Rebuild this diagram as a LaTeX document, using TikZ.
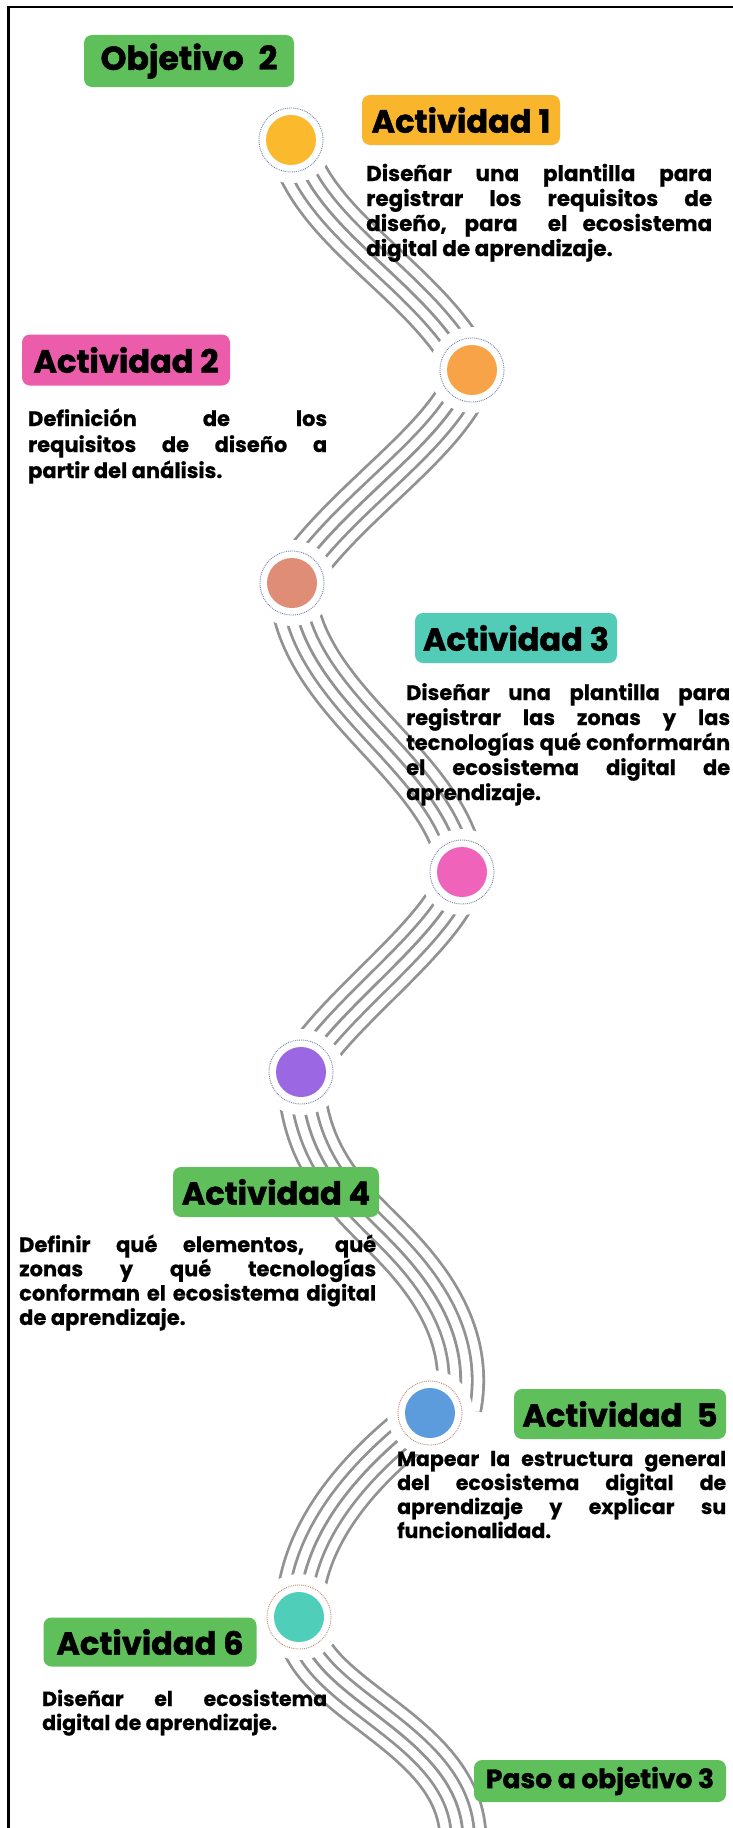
\documentclass[tikz,border=0pt]{standalone}
\usepackage{fontspec}
\newfontfamily\poph{Poppins}[BoldFeatures={FakeBold=1.4}]
\newfontfamily\pop{Poppins}[BoldFeatures={FakeBold=0.6}]
\pgfdeclarelayer{road}
\pgfsetlayers{road,main}
\definecolor{roadc}{HTML}{929292}
\definecolor{ringc}{HTML}{7282AC}
\definecolor{ringr}{HTML}{C08878}
\definecolor{gbox}{HTML}{5EBF5B}
\definecolor{ybox}{HTML}{F9B62D}
\definecolor{pbox}{HTML}{EB5CAB}
\definecolor{tbox}{HTML}{52CCB7}
\definecolor{cA}{HTML}{FBB92E}
\definecolor{cB}{HTML}{F9A348}
\definecolor{cC}{HTML}{E08D78}
\definecolor{cD}{HTML}{F063BA}
\definecolor{cE}{HTML}{9B67E3}
\definecolor{cF}{HTML}{5C9CDC}
\definecolor{cG}{HTML}{4FCFBA}
\hyphenpenalty=10000
\exhyphenpenalty=10000
\tolerance=9999
\begin{document}
\begin{tikzpicture}[x=1pt,y=-1pt,
  hdr/.style={rounded corners=8pt, inner sep=0pt, text=black,
    font=\poph\bfseries\fontsize{32}{34}\selectfont},
  body/.style={anchor=base west, inner sep=0pt, align=justify, text=black},
  dotc/.style={circle, minimum size=50pt, inner sep=0pt},
  ring/.style={densely dotted, line width=0.9pt, draw=ringc}
]
\useasboundingbox (0,0) rectangle (732,1828);

% circles
\node[dotc, fill=cA] (n1) at (291,140) {};
\node[dotc, fill=cB] (n2) at (472,370) {};
\node[dotc, fill=cC] (n3) at (292,583) {};
\node[dotc, fill=cD] (n4) at (462,872) {};
\node[dotc, fill=cE] (n5) at (301,1072) {};
\node[dotc, fill=cF] (n6) at (430,1413) {};
\node[dotc, fill=cG] (n7) at (299,1617) {};
\foreach \i in {1,...,5} \draw[ring] (n\i.center) circle[radius=32pt];
\foreach \i in {6,7} \draw[ring, draw=ringr] (n\i.center) circle[radius=32pt];

\coordinate (m56) at (375,1225);
\coordinate (k6a) at (458,1408);
\coordinate (k6b) at (425,1418);
\coordinate (bot) at (463,1840);

% road
\begin{pgfonlayer}{road}
\foreach \w/\c in {48.8/roadc, 43.2/white, 25.8/roadc, 20.2/white, 2.8/roadc}
  \draw[line width=\w pt, draw=\c, line join=round]
    (n1.center) .. controls +(20,90) and +(-45,-90) .. (n2.center)
    .. controls +(-20,70) and +(50,-80) .. (n3.center)
    .. controls +(5,120) and +(-15,-110) .. (n4.center)
    .. controls +(-12,60) and +(30,-60) .. (n5.center)
    .. controls +(0,80) and +(-28,-28) .. (m56)
    .. controls +(32,32) and +(17,-88) .. (k6a)
    (k6b) .. controls +(-40,32) and +(0,-97) .. (n7.center)
    .. controls +(0,83) and +(0,-110) .. (bot);
\foreach \i in {1,...,7} \fill[white] (n\i.center) circle[radius=43pt];
\end{pgfonlayer}

% headers
\node[hdr, fill=gbox, minimum width=210pt, minimum height=52pt,
  font=\poph\bfseries\fontsize{33}{35}\selectfont] (h0) at (189,61) {Objetivo\hspace{0.45em}2};
\node[hdr, fill=ybox, minimum width=198pt, minimum height=50pt] (h1) at (461,120) {Actividad 1};
\node[hdr, fill=pbox, minimum width=208pt, minimum height=51pt] (h2) at (126,360) {Actividad 2};
\node[hdr, fill=tbox, minimum width=202pt, minimum height=50pt] (h3) at (516,638) {Actividad 3};
\node[hdr, fill=gbox, minimum width=206pt, minimum height=50pt] (h4) at (276,1192) {Actividad 4};
\node[hdr, fill=gbox, minimum width=212pt, minimum height=50pt] (h5) at (620,1414) {Actividad\hspace{0.45em}5};
\node[hdr, fill=gbox, minimum width=213pt, minimum height=49pt] (h6) at (150,1642) {Actividad 6};
\node[hdr, fill=gbox, minimum width=252pt, minimum height=42pt,
  font=\poph\bfseries\fontsize{26.5}{28}\selectfont] (h7) at (600,1781) {Paso a objetivo 3};

% body texts
\node[body, text width=346pt, font=\pop\bfseries\fontsize{21.5}{25}\selectfont] (t1) at (366,181)
  {Diseñar una plantilla para\linebreak registrar los requisitos de\linebreak diseño, para\ \ el ecosistema\linebreak digital de aprendizaje.};
\node[body, text width=299pt, font=\pop\bfseries\fontsize{21}{26}\selectfont] (t2) at (28,426)
  {Definición de los\linebreak requisitos de diseño a\linebreak partir del análisis.};
\node[body, text width=324pt, font=\pop\bfseries\fontsize{21}{25}\selectfont] (t3) at (406,700)
  {Diseñar una plantilla para\linebreak registrar las zonas y las\linebreak tecnologías qué conformarán\linebreak el ecosistema digital de\linebreak aprendizaje.};
\node[body, text width=357pt, font=\pop\bfseries\fontsize{21}{24.3}\selectfont] (t4) at (19,1252)
  {Definir qué elementos, qué\linebreak zonas y qué tecnologías\linebreak conforman el ecosistema digital\linebreak de aprendizaje.};
\node[body, text width=329pt, font=\pop\bfseries\fontsize{20.5}{24}\selectfont] (t5) at (397,1466)
  {Mapear la estructura general\linebreak del ecosistema digital de\linebreak aprendizaje y explicar su\linebreak funcionalidad.};
\node[body, text width=285pt, font=\pop\bfseries\fontsize{20.5}{24}\selectfont] (t6) at (42,1706)
  {Diseñar el ecosistema\linebreak digital de aprendizaje.};

% frame
\draw[line width=2.8pt, line cap=rect] (8.5,1840) |- (740,7);
\end{tikzpicture}
\end{document}
